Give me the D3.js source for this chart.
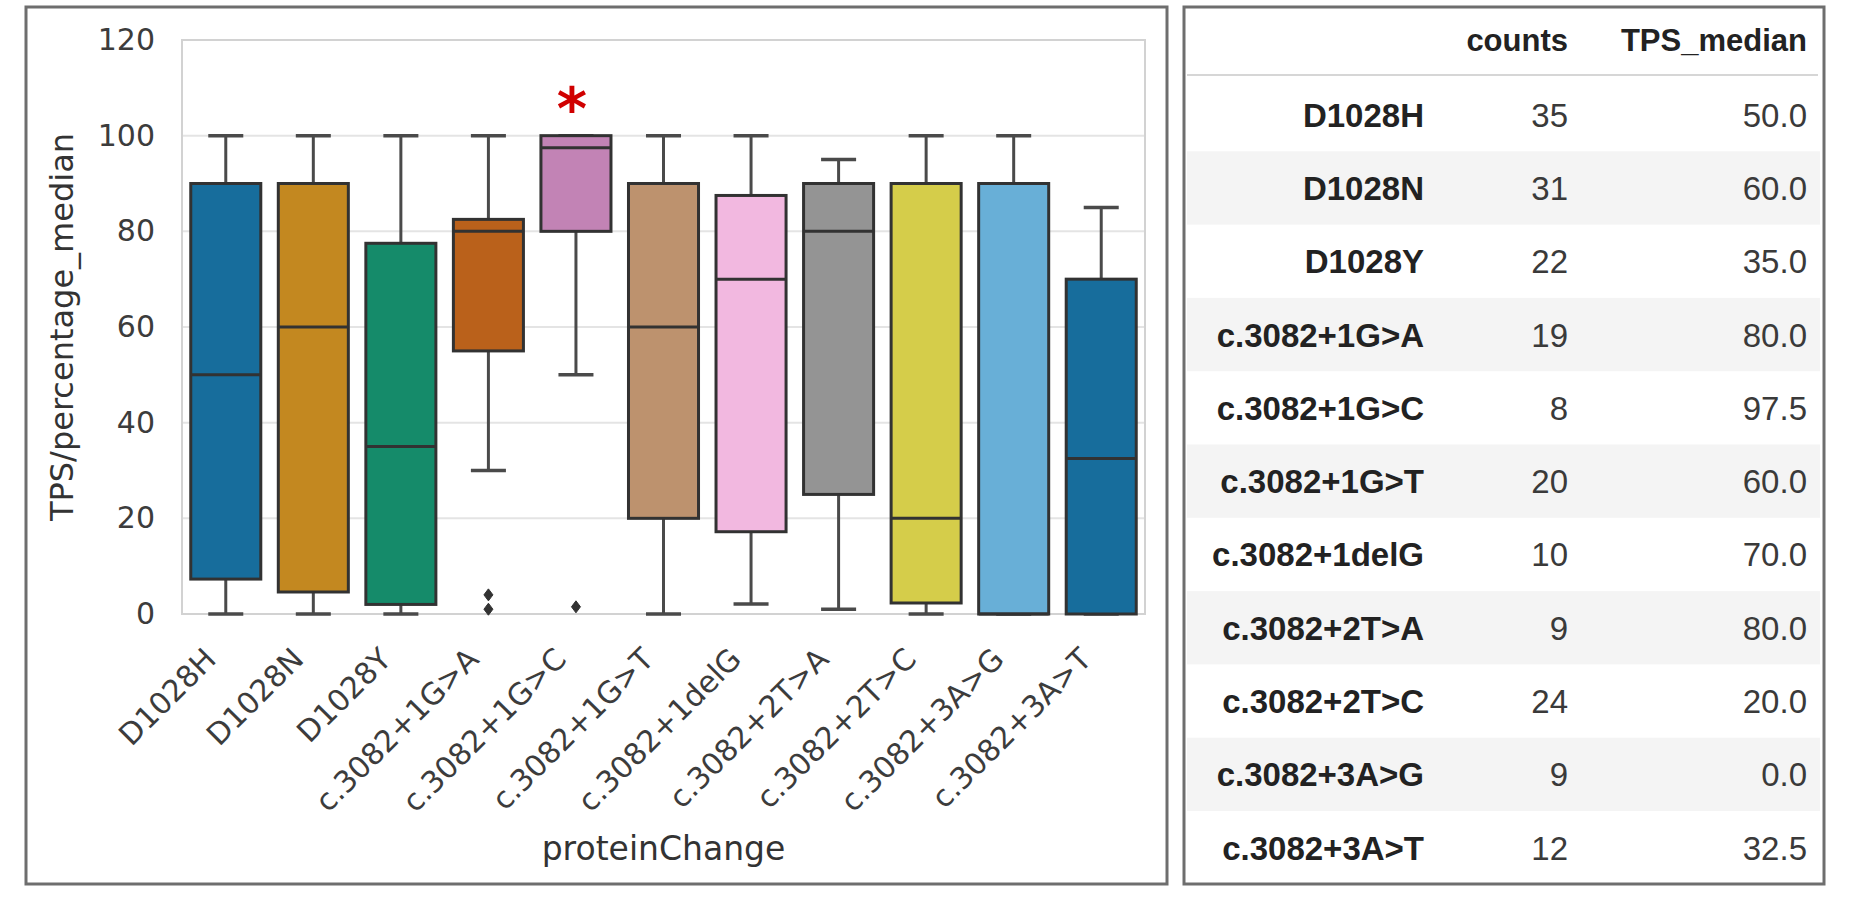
<!DOCTYPE html>
<html>
<head>
<meta charset="utf-8">
<script src="https://cdn.jsdelivr.net/npm/d3@7"></script>
<style>
  html, body { margin: 0; padding: 0; background: #ffffff; }
  svg { display: block; }
</style>
</head>
<body>
<svg id="chart" width="1856" height="908"></svg>
<script>
// ---------------- data ----------------
const categories = ["D1028H", "D1028N", "D1028Y", "c.3082+1G>A", "c.3082+1G>C", "c.3082+1G>T",
  "c.3082+1delG", "c.3082+2T>A", "c.3082+2T>C", "c.3082+3A>G", "c.3082+3A>T"];
const whiskerLow  = [0, 0, 0, 30, 50, 0, 2.1, 1, 0, 0, 0];
const q1Values    = [7.3, 4.6, 2, 55, 80, 20, 17.2, 25, 2.3, 0, 0];
const medianValues = [50, 60, 35, 80, 97.5, 60, 70, 80, 20, 0, 32.5];
const q3Values    = [90, 90, 77.5, 82.5, 100, 90, 87.5, 90, 90, 90, 70];
const whiskerHigh = [100, 100, 100, 100, 100, 100, 100, 95, 100, 100, 85];
const fliers      = [[], [], [], [1, 4], [1.5], [], [], [], [], [], []];
const yTicks = [0, 20, 40, 60, 80, 100, 120];
const palette = ["#0173b2", "#de8f05", "#029e73", "#d55e00", "#cc78bc", "#ca9161",
  "#fbafe4", "#949494", "#ece133", "#56b4e9", "#0173b2"];
const significant = ["c.3082+1G>C"];

const tableColumns = ["counts", "TPS_median"];
const counts = [35, 31, 22, 19, 8, 20, 10, 9, 24, 9, 12];
const tpsMedian = [50.0, 60.0, 35.0, 80.0, 97.5, 60.0, 70.0, 80.0, 20.0, 0.0, 32.5];

// ---------------- layout ----------------
const svg = d3.select("#chart");
const plot = { left: 182, right: 1145, top: 40, bottom: 614 };
const edge = "#323232";
const whiskerColor = "#4a4a4a";

// panel frames
svg.append("rect").attr("x", 26).attr("y", 7).attr("width", 1141).attr("height", 877)
  .attr("fill", "#fff").attr("stroke", "#6e6e6e").attr("stroke-width", 3);
svg.append("rect").attr("x", 1184).attr("y", 7).attr("width", 640).attr("height", 877)
  .attr("fill", "#fff").attr("stroke", "#6e6e6e").attr("stroke-width", 3);

const x = d3.scaleBand().domain(categories).range([plot.left, plot.right]).paddingInner(0).paddingOuter(0);
const y = d3.scaleLinear().domain([0, 120]).range([plot.bottom, plot.top]);
const boxW = x.bandwidth() * 0.8;

// grid
const g = svg.append("g");
g.append("g").selectAll("line").data(yTicks).join("line")
  .attr("x1", plot.left).attr("x2", plot.right)
  .attr("y1", d => y(d)).attr("y2", d => y(d))
  .attr("stroke", "#e4e4e4").attr("stroke-width", 2);

// spines
g.append("rect").attr("x", plot.left).attr("y", plot.top)
  .attr("width", plot.right - plot.left).attr("height", plot.bottom - plot.top)
  .attr("fill", "none").attr("stroke", "#d2d2d2").attr("stroke-width", 2);

// y axis
const yAxis = d3.axisLeft(y).tickValues(yTicks).tickSize(0).tickPadding(27);
const ya = g.append("g").attr("transform", `translate(${plot.left},0)`).call(yAxis);
ya.select(".domain").remove();
ya.selectAll("text").attr("font-family", "DejaVu Sans").attr("font-size", 30).attr("fill", "#3c3c3c");

// x axis
const xAxis = d3.axisBottom(x).tickSize(0).tickPadding(0);
const xa = g.append("g").attr("transform", `translate(0,${plot.bottom})`).call(xAxis);
xa.select(".domain").remove();
xa.selectAll("text")
  .attr("font-family", "DejaVu Sans").attr("font-size", 30).attr("fill", "#3c3c3c")
  .attr("text-anchor", "end").attr("dy", 0).attr("y", 0)
  .attr("transform", "translate(-8,47) rotate(-45)");

// axis labels
g.append("text").text("proteinChange")
  .attr("x", (plot.left + plot.right) / 2).attr("y", 860)
  .attr("text-anchor", "middle").attr("font-family", "DejaVu Sans").attr("font-size", 33).attr("fill", "#333");
g.append("text").text("TPS/percentage_median")
  .attr("transform", `translate(73,${(plot.top + plot.bottom) / 2}) rotate(-90)`)
  .attr("text-anchor", "middle").attr("font-family", "DejaVu Sans").attr("font-size", 32).attr("fill", "#333");

// boxes
const boxes = g.append("g").selectAll("g").data(categories).join("g")
  .attr("transform", d => `translate(${x(d) + x.bandwidth() / 2},0)`);

function fillColor(i) {
  const c = d3.hsl(palette[i]);
  c.s *= 0.75;
  return c.formatHex();
}

// whiskers
boxes.append("line").attr("x1", 0).attr("x2", 0)
  .attr("y1", (d, i) => y(whiskerHigh[i])).attr("y2", (d, i) => y(q3Values[i]))
  .attr("stroke", whiskerColor).attr("stroke-width", 3);
boxes.append("line").attr("x1", 0).attr("x2", 0)
  .attr("y1", (d, i) => y(whiskerLow[i])).attr("y2", (d, i) => y(q1Values[i]))
  .attr("stroke", whiskerColor).attr("stroke-width", 3);
// caps
boxes.append("line").attr("x1", -boxW / 4).attr("x2", boxW / 4)
  .attr("y1", (d, i) => y(whiskerHigh[i])).attr("y2", (d, i) => y(whiskerHigh[i]))
  .attr("stroke", whiskerColor).attr("stroke-width", 3.5);
boxes.append("line").attr("x1", -boxW / 4).attr("x2", boxW / 4)
  .attr("y1", (d, i) => y(whiskerLow[i])).attr("y2", (d, i) => y(whiskerLow[i]))
  .attr("stroke", whiskerColor).attr("stroke-width", 3.5);
// box
boxes.append("rect").attr("x", -boxW / 2).attr("width", boxW)
  .attr("y", (d, i) => y(q3Values[i]))
  .attr("height", (d, i) => y(q1Values[i]) - y(q3Values[i]))
  .attr("fill", (d, i) => fillColor(i))
  .attr("stroke", edge).attr("stroke-width", 3);
// median
boxes.append("line").attr("x1", -boxW / 2).attr("x2", boxW / 2)
  .attr("y1", (d, i) => y(medianValues[i])).attr("y2", (d, i) => y(medianValues[i]))
  .attr("stroke", edge).attr("stroke-width", 3);
// fliers
boxes.each(function (d, i) {
  d3.select(this).selectAll("path.flier").data(fliers[i]).join("path")
    .attr("class", "flier")
    .attr("d", "M0,-6 L4.5,0 L0,6 L-4.5,0 Z")
    .attr("transform", v => `translate(0,${y(v)})`)
    .attr("fill", edge).attr("stroke", edge).attr("stroke-width", 1);
});

// significance marker
g.selectAll("text.sig").data(significant).join("text").attr("class", "sig")
  .text("*")
  .attr("x", d => x(d) + x.bandwidth() / 2 - 4)
  .attr("y", y(108) + 32)
  .attr("text-anchor", "middle")
  .attr("font-family", "DejaVu Sans").attr("font-weight", "bold")
  .attr("font-size", 58).attr("fill", "#d00000");

// ---------------- table ----------------
const t = svg.append("g");
const rowY = d3.scaleBand().domain(categories).range([78, 78 + 73.3 * categories.length]);
const tableLeft = 1187, tableRight = 1820;
const colRight = { index: 1424, counts: 1568, TPS_median: 1807 };

t.selectAll("rect.stripe").data(categories.filter((d, i) => i % 2 === 1)).join("rect")
  .attr("class", "stripe")
  .attr("x", tableLeft).attr("width", tableRight - tableLeft)
  .attr("y", d => rowY(d)).attr("height", rowY.bandwidth())
  .attr("fill", "#f4f4f4");

t.append("line").attr("x1", tableLeft).attr("x2", 1818).attr("y1", 75).attr("y2", 75)
  .attr("stroke", "#d6d6d6").attr("stroke-width", 2);

t.selectAll("text.head").data(tableColumns).join("text").attr("class", "head")
  .text(d => d)
  .attr("x", d => colRight[d]).attr("y", 51)
  .attr("text-anchor", "end")
  .attr("font-family", "Liberation Sans").attr("font-weight", "bold")
  .attr("font-size", 31).attr("fill", "#222");

const rows = t.selectAll("g.row").data(categories).join("g").attr("class", "row")
  .attr("transform", d => `translate(0,${rowY(d) + rowY.bandwidth() / 2 + 12})`);
rows.append("text").text(d => d)
  .attr("x", colRight.index).attr("text-anchor", "end")
  .attr("font-family", "Liberation Sans").attr("font-weight", "bold")
  .attr("font-size", 33).attr("fill", "#222");
rows.append("text").text((d, i) => counts[i])
  .attr("x", colRight.counts).attr("text-anchor", "end")
  .attr("font-family", "Liberation Sans").attr("font-size", 33).attr("fill", "#3a3a3a");
rows.append("text").text((d, i) => tpsMedian[i].toFixed(1))
  .attr("x", colRight.TPS_median).attr("text-anchor", "end")
  .attr("font-family", "Liberation Sans").attr("font-size", 33).attr("fill", "#3a3a3a");
</script>
</body>
</html>
